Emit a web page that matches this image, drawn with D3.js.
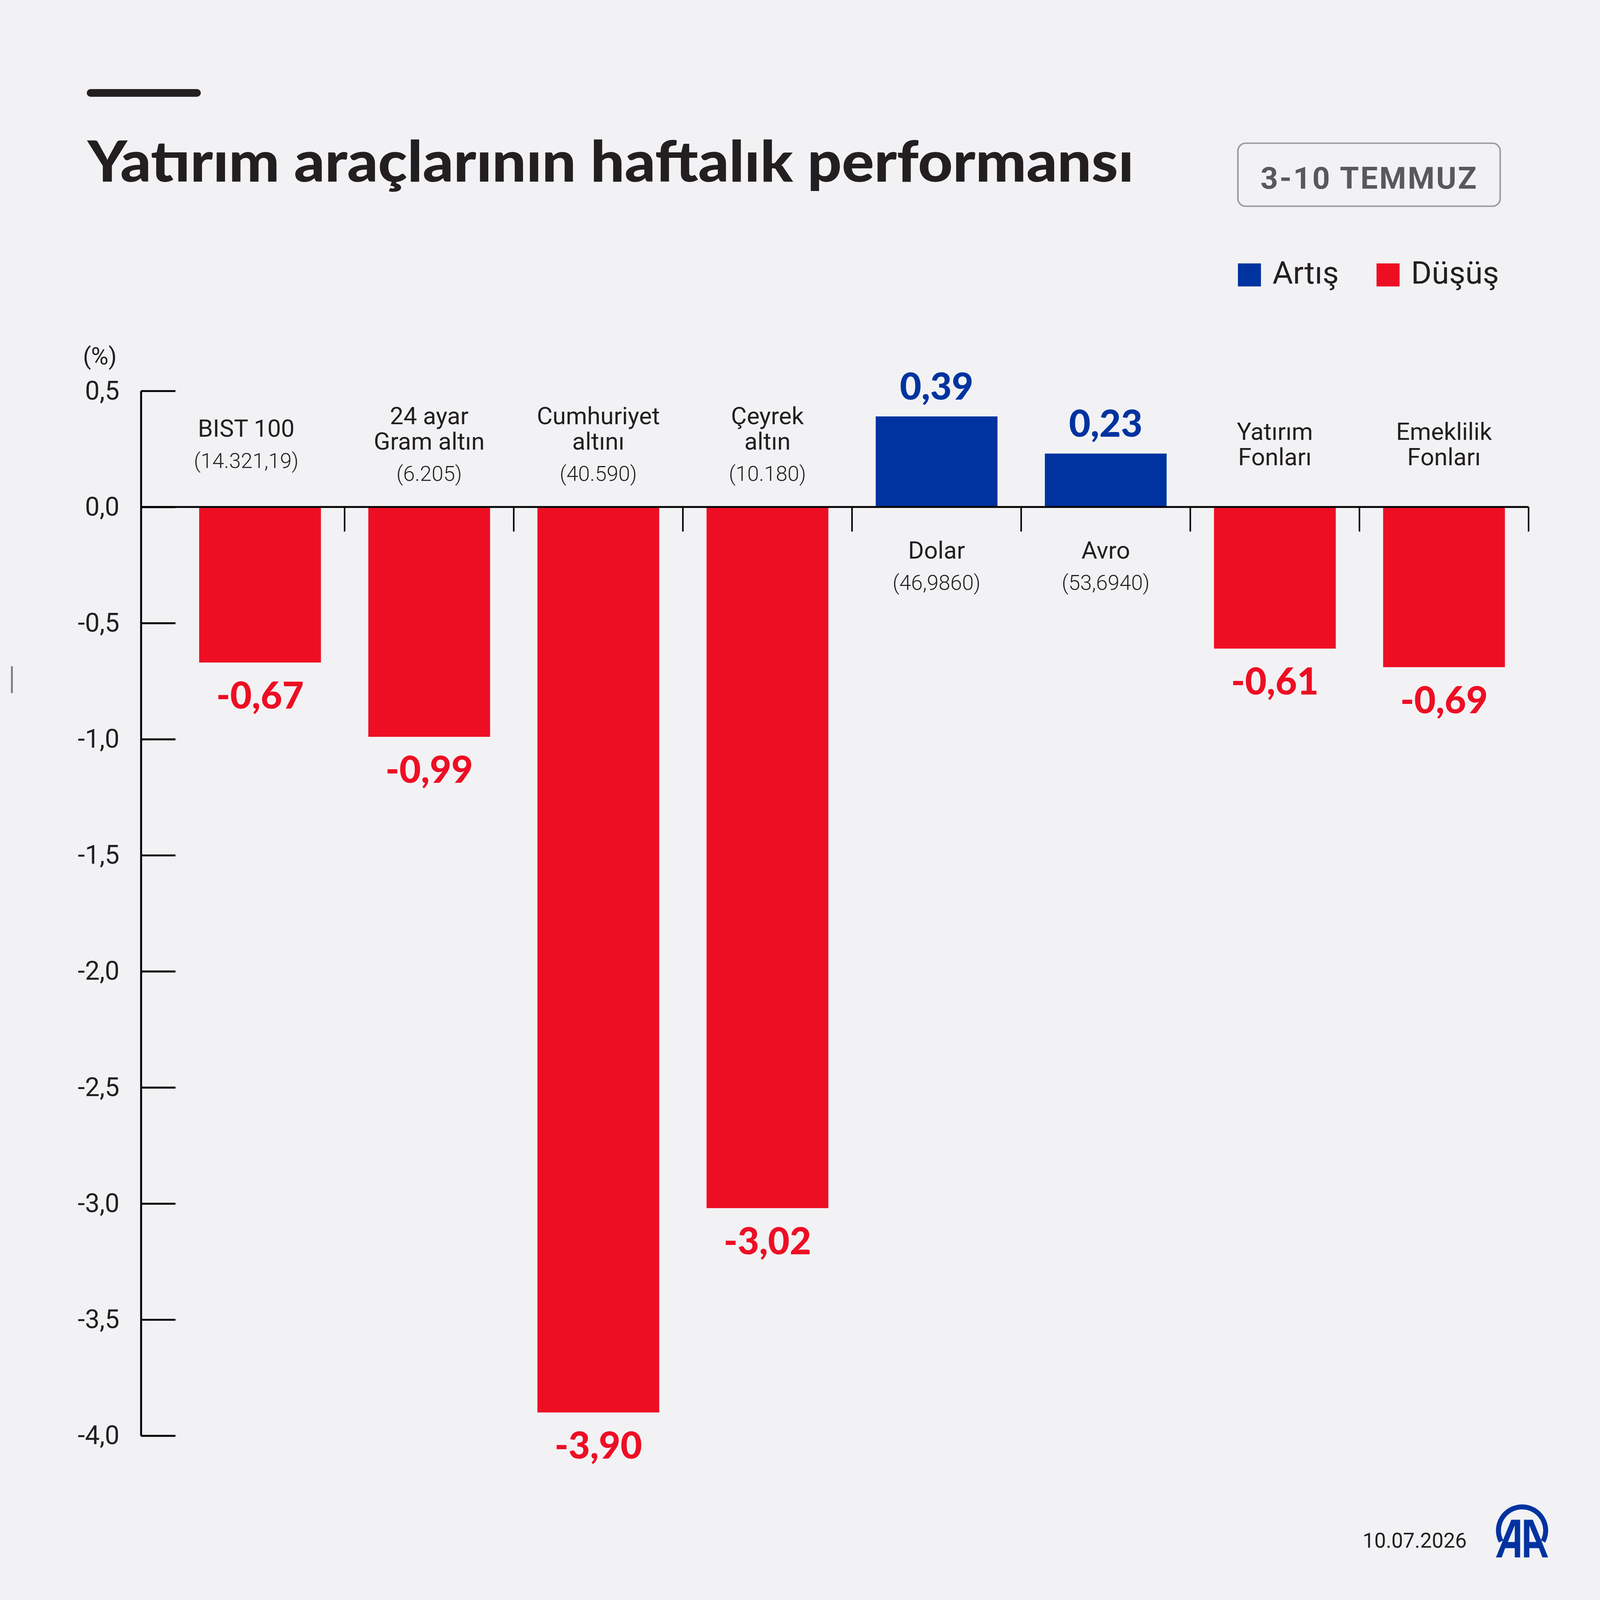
<!DOCTYPE html>
<html>
<head>
<meta charset="utf-8">
<script src="https://cdn.jsdelivr.net/npm/d3@7"></script>
<style>
  html, body { margin: 0; padding: 0; background: #f2f2f4; overflow: hidden; }
  .responsive-svg-container svg { display: block; width: 100vw; height: 100vh; }
</style>
</head>
<body>
<div class="responsive-svg-container"></div>
<script>
// data
const categories = ["BIST 100", "24 ayar Gram altın", "Cumhuriyet altını", "Çeyrek altın",
                    "Dolar", "Avro", "Yatırım Fonları", "Emeklilik Fonları"];
const nameLines = [["BIST 100"], ["24 ayar", "Gram altın"], ["Cumhuriyet", "altını"], ["Çeyrek", "altın"],
                   ["Dolar"], ["Avro"], ["Yatırım", "Fonları"], ["Emeklilik", "Fonları"]];
const prices = ["(14.321,19)", "(6.205)", "(40.590)", "(10.180)", "(46,9860)", "(53,6940)", null, null];
const changes = [-0.67, -0.99, -3.90, -3.02, 0.39, 0.23, -0.61, -0.69];
const yTicks = [0.5, 0, -0.5, -1, -1.5, -2, -2.5, -3, -3.5, -4];
const legendItems = ["Artış", "Düşüş"];

const W = 4167, H = 4167;
const blue = "#0033a0", red = "#ee0e24", ink = "#231f20";

const trLocale = d3.formatLocale({decimal: ",", thousands: ".", grouping: [3], currency: ["", "₺"], minus: "-"});
const fmt1 = trLocale.format(".1f");
const fmt2 = trLocale.format(".2f");

const svg = d3.select(".responsive-svg-container")
    .append("svg")
    .attr("viewBox", `0 0 ${W} ${H}`)
    .attr("preserveAspectRatio", "xMidYMid meet");

svg.append("rect").attr("width", W).attr("height", H).attr("fill", "#f2f2f4");

// header
svg.append("rect")
    .attr("x", 226).attr("y", 232)
    .attr("width", 297).attr("height", 20)
    .attr("rx", 10)
    .attr("fill", ink);

svg.append("text")
    .text("Yatırım araçlarının haftalık performansı")
    .attr("x", 228)
    .attr("y", 473)
    .attr("font-family", "Lato, sans-serif")
    .attr("font-weight", 900)
    .attr("font-size", 148)
    .attr("textLength", 2725)
    .attr("lengthAdjust", "spacingAndGlyphs")
    .attr("fill", ink);

svg.append("rect")
    .attr("x", 3224).attr("y", 373)
    .attr("width", 683).attr("height", 164)
    .attr("rx", 20)
    .attr("fill", "none")
    .attr("stroke", "#9c9c9e")
    .attr("stroke-width", 4);

svg.append("text")
    .text("3-10 TEMMUZ")
    .attr("x", 3566)
    .attr("y", 491)
    .attr("text-anchor", "middle")
    .attr("font-family", "Roboto, sans-serif")
    .attr("font-weight", 700)
    .attr("font-size", 80)
    .attr("letter-spacing", 4)
    .attr("fill", "#58595b");

// legend
const legend = svg.selectAll(".legend")
    .data(legendItems)
    .join("g")
    .attr("class", "legend")
    .attr("transform", (d, i) => `translate(${i === 0 ? 3224 : 3585}, 686)`);

legend.append("rect")
    .attr("width", 60).attr("height", 60)
    .attr("fill", (d, i) => i === 0 ? blue : red);

legend.append("text")
    .text(d => d)
    .attr("x", 90)
    .attr("y", 53)
    .attr("font-family", "Roboto, sans-serif")
    .attr("font-size", 82)
    .attr("fill", ink);

// scales
const xScale = d3.scaleBand()
    .domain(categories)
    .range([457, 3981])
    .paddingInner(0.28)
    .paddingOuter(0.14);

const yScale = d3.scaleLinear()
    .domain([-4, 0.5])
    .range([3739, 1018]);

const y0 = yScale(0);

// y axis
const yAxis = svg.append("g")
    .attr("transform", "translate(367, 0)")
    .call(d3.axisLeft(yScale)
        .tickValues(yTicks)
        .tickFormat(fmt1)
        .tickSizeInner(-90)
        .tickSizeOuter(0)
        .tickPadding(56));

yAxis.select(".domain").attr("stroke", "#000").attr("stroke-width", 5);
yAxis.selectAll(".tick line").attr("stroke", "#000").attr("stroke-width", 5);
yAxis.selectAll(".tick text")
    .attr("font-family", "Roboto, sans-serif")
    .attr("font-size", 68)
    .attr("fill", ink);

svg.append("text")
    .text("(%)")
    .attr("x", 260)
    .attr("y", 949)
    .attr("text-anchor", "middle")
    .attr("font-family", "Roboto, sans-serif")
    .attr("font-size", 62)
    .attr("fill", ink);

// bars
svg.selectAll(".bar")
    .data(changes)
    .join("rect")
    .attr("class", "bar")
    .attr("x", (d, i) => xScale(categories[i]))
    .attr("y", d => yScale(Math.max(0, d)))
    .attr("width", xScale.bandwidth())
    .attr("height", d => Math.abs(yScale(d) - y0))
    .attr("fill", d => d >= 0 ? blue : red);

// zero line + separators
svg.append("line")
    .attr("x1", 367).attr("x2", xScale.range()[1])
    .attr("y1", y0).attr("y2", y0)
    .attr("stroke", "#000")
    .attr("stroke-width", 5);

svg.selectAll(".sep")
    .data(categories)
    .join("line")
    .attr("class", "sep")
    .attr("x1", d => xScale(d) + xScale.bandwidth() / 2 + xScale.step() / 2)
    .attr("x2", d => xScale(d) + xScale.bandwidth() / 2 + xScale.step() / 2)
    .attr("y1", y0)
    .attr("y2", y0 + 64)
    .attr("stroke", "#000")
    .attr("stroke-width", 4);

// value labels
svg.selectAll(".val")
    .data(changes)
    .join("text")
    .attr("class", "val")
    .text(d => fmt2(d))
    .attr("x", (d, i) => xScale(categories[i]) + xScale.bandwidth() / 2)
    .attr("y", d => d >= 0 ? yScale(d) - 44 : yScale(d) + 120)
    .attr("text-anchor", "middle")
    .attr("font-family", "Lato, sans-serif")
    .attr("font-weight", 900)
    .attr("font-size", 97)
    .attr("fill", d => d >= 0 ? blue : red);

// category labels, above zero for falls, below for rises
categories.forEach((c, i) => {
    const lines = nameLines[i].map(t => ({t, price: false}));
    if (prices[i]) lines.push({t: prices[i], price: true});
    let off = 0;
    lines.forEach((l, j) => {
        if (j > 0) off += l.price ? 81 : 66;
        l.off = off;
    });
    const mid = changes[i] < 0 ? y0 - 142 : y0 + 175;
    const first = mid - off / 2;
    // the first label sits a little left of its bar in the original
    const cx = xScale(c) + xScale.bandwidth() / 2 - (i === 0 ? 36 : 0);

    svg.append("g")
        .selectAll("text")
        .data(lines)
        .join("text")
        .text(d => d.t)
        .attr("x", cx)
        .attr("y", d => first + d.off)
        .attr("text-anchor", "middle")
        .attr("font-family", "Roboto, sans-serif")
        .attr("font-weight", d => d.price ? 300 : 400)
        .attr("font-size", d => d.price ? 55 : 63)
        .attr("fill", ink);
});

// small side mark
svg.append("line")
    .attr("x1", 31).attr("x2", 31)
    .attr("y1", 1735).attr("y2", 1805)
    .attr("stroke", "#808080")
    .attr("stroke-width", 5);

// footer
svg.append("text")
    .text("10.07.2026")
    .attr("x", 3820)
    .attr("y", 4031)
    .attr("text-anchor", "end")
    .attr("font-family", "Roboto, sans-serif")
    .attr("font-size", 54)
    .attr("fill", ink);

const logo = svg.append("g")
    .attr("transform", "translate(3896, 3918)")
    .attr("fill", blue);

logo.append("path")
    .attr("transform", "translate(68, 68)")
    .attr("d", d3.arc()({innerRadius: 55, outerRadius: 68, startAngle: -2.05, endAngle: 2.05}));

const leftA = "M0,138L40,40L63,40L63,138L49,138L49,114L24,114L15,138Z M31,98L49,98L49,55Z";
logo.append("path").attr("d", leftA).attr("fill-rule", "evenodd");
logo.append("path").attr("d", leftA).attr("fill-rule", "evenodd")
    .attr("transform", "translate(136, 0) scale(-1, 1)");
</script>
</body>
</html>
